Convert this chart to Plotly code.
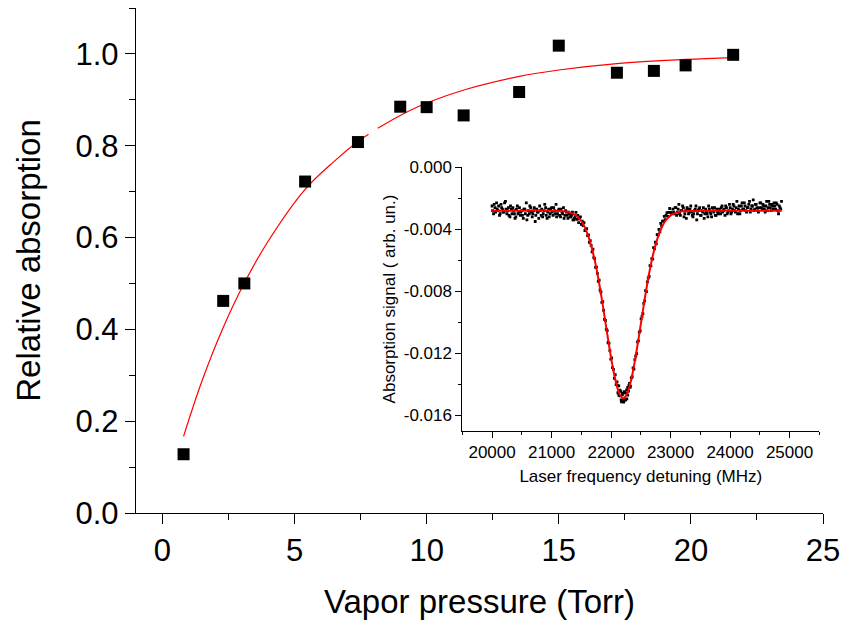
import plotly.graph_objects as go

# ---------------- main chart data ----------------
pressure_torr = [0.8, 2.3, 3.1, 5.4, 7.4, 9.0, 10.0, 11.4, 13.5, 15.0, 17.2, 18.6, 19.8, 21.6]
relative_absorption = [0.128, 0.462, 0.500, 0.722, 0.808, 0.885, 0.884, 0.866, 0.917, 1.018, 0.959, 0.963, 0.975, 0.998]

# fitted curve (with the small gap near 8 Torr)
fit_pressure = [0.8, 1.5, 2.3, 3.1, 4.0, 5.4, 6.5, 7.4, 7.8, None, 8.15, 9.0, 10.0, 11.5, 13.5, 15.0, 17.2, 19.8, 21.6]
fit_absorption = [0.167, 0.288, 0.404, 0.501, 0.592, 0.705, 0.766, 0.809, 0.825, None, 0.838, 0.866, 0.893, 0.923, 0.951, 0.965, 0.979, 0.988, 0.992]

main_x_ticks = [0, 5, 10, 15, 20, 25]
main_y_ticks = [0.0, 0.2, 0.4, 0.6, 0.8, 1.0]
main_y_ticktext = ["0.0", "0.2", "0.4", "0.6", "0.8", "1.0"]

# ---------------- inset data ----------------
left_x = [20000, 20025, 20050, 20075, 20100, 20125, 20150, 20175, 20200, 20225, 20250, 20275, 20300, 20325,
          20350, 20375, 20400, 20425, 20450, 20475, 20500, 20525, 20550, 20575, 20600, 20625, 20650, 20675,
          20700, 20725, 20750, 20775, 20800, 20825, 20850, 20875, 20900, 20925, 20950, 20975, 21000, 21025,
          21050, 21075, 21100, 21125, 21150, 21175, 21200, 21225, 21250, 21275, 21300, 21325, 21350, 21375]
left_y = [-0.0025, -0.0030, -0.0026, -0.0023, -0.0028, -0.0031, -0.0024, -0.0027, -0.0029, -0.0022, -0.0030,
          -0.0026, -0.0032, -0.0027, -0.0026, -0.0030, -0.0032, -0.0025, -0.0029, -0.0031, -0.0028, -0.0033,
          -0.0027, -0.0023, -0.0031, -0.0030, -0.0026, -0.0032, -0.0028, -0.0035, -0.0027, -0.0029, -0.0025,
          -0.0031, -0.0032, -0.0028, -0.0026, -0.0033, -0.0027, -0.0030, -0.0026, -0.0031, -0.0028, -0.0024,
          -0.0030, -0.0027, -0.0032, -0.0029, -0.0026, -0.0031, -0.0029, -0.0033, -0.0030, -0.0032, -0.0029,
          -0.0034]

left2_x = [20010, 20035, 20060, 20085, 20110, 20135, 20160, 20185, 20210, 20235, 20260, 20285, 20310, 20335,
           20360, 20385, 20410, 20435, 20460, 20485, 20510, 20535, 20560, 20585, 20610, 20635, 20660, 20685,
           20710, 20735, 20760, 20785, 20810, 20835, 20860, 20885, 20910, 20935, 20960, 20985, 21010, 21035,
           21060, 21085, 21110, 21135, 21160, 21185, 21210, 21235, 21260, 21285, 21310, 21335, 21360, 21385]
left2_y = [-0.0028, -0.0024, -0.0029, -0.0027, -0.0025, -0.0030, -0.0026, -0.0029, -0.0023, -0.0027, -0.0028,
           -0.0031, -0.0025, -0.0030, -0.0028, -0.0033, -0.0027, -0.0030, -0.0026, -0.0029, -0.0031, -0.0027,
           -0.0030, -0.0034, -0.0028, -0.0025, -0.0029, -0.0030, -0.0026, -0.0031, -0.0029, -0.0033, -0.0028,
           -0.0027, -0.0030, -0.0024, -0.0031, -0.0029, -0.0032, -0.0027, -0.0029, -0.0026, -0.0030, -0.0032,
           -0.0028, -0.0031, -0.0027, -0.0030, -0.0033, -0.0028, -0.0031, -0.0029, -0.0032, -0.0031, -0.0034,
           -0.0033]

dip_x = [21395, 21410, 21425, 21440, 21455, 21470, 21485, 21500, 21515, 21530, 21545, 21560, 21575, 21590,
         21605, 21620, 21635, 21650, 21665, 21680, 21695, 21710, 21725, 21740, 21755, 21770, 21785, 21800,
         21815, 21830, 21845, 21860, 21875, 21890, 21905, 21920, 21935, 21950, 21965, 21980, 21995, 22010,
         22025, 22040, 22055, 22070, 22085, 22100, 22115, 22130, 22145, 22160, 22175, 22190, 22205, 22220,
         22235, 22250, 22265, 22280, 22295, 22310, 22325, 22340, 22355, 22370, 22385, 22400, 22415, 22430,
         22445, 22460, 22475, 22490, 22505, 22520, 22535, 22550, 22565, 22580, 22595, 22610, 22625, 22640,
         22655, 22670, 22685, 22700, 22715, 22730, 22745, 22760, 22775, 22790, 22805, 22820, 22835, 22850,
         22865, 22880, 22895, 22910, 22925, 22940, 22955, 22970, 22985, 23000, 23015]
dip_y = [-0.00317, -0.00291, -0.00336, -0.00311, -0.00357, -0.00333, -0.00320, -0.00368, -0.00347, -0.00377,
         -0.00357, -0.00409, -0.00402, -0.00396, -0.00441, -0.00437, -0.00485, -0.00474, -0.00504, -0.00546,
         -0.00529, -0.00583, -0.00589, -0.00646, -0.00645, -0.00685, -0.00736, -0.00729, -0.00792, -0.00806,
         -0.00872, -0.00868, -0.00924, -0.00982, -0.00989, -0.01046, -0.01054, -0.01131, -0.01137, -0.01183,
         -0.01238, -0.01231, -0.01293, -0.01304, -0.01362, -0.01339, -0.01403, -0.01385, -0.01455, -0.01411,
         -0.01475, -0.01446, -0.01514, -0.01468, -0.01500, -0.01448, -0.01504, -0.01456, -0.01495, -0.01421,
         -0.01445, -0.01395, -0.01413, -0.01359, -0.01352, -0.01294, -0.01303, -0.01241, -0.01218, -0.01203,
         -0.01127, -0.01121, -0.01064, -0.01056, -0.00979, -0.00962, -0.00944, -0.00878, -0.00862, -0.00796,
         -0.00802, -0.00739, -0.00716, -0.00705, -0.00635, -0.00636, -0.00589, -0.00593, -0.00519, -0.00526,
         -0.00484, -0.00494, -0.00435, -0.00437, -0.00401, -0.00416, -0.00362, -0.00379, -0.00347, -0.00347,
         -0.00317, -0.00338, -0.00310, -0.00293, -0.00317, -0.00291, -0.00266, -0.00291, -0.00297]

bottom_x = [22110, 22130, 22150, 22170, 22190, 22212, 22228, 22245, 22262, 22280, 22300, 22320]
bottom_y = [-0.01409, -0.01471, -0.01439, -0.01501, -0.01458, -0.01515, -0.01456, -0.01499, -0.01437,
            -0.01471, -0.01409, -0.01421]

right_x = [23040, 23065, 23090, 23115, 23140, 23165, 23190, 23215, 23240, 23265, 23290, 23315, 23340, 23365,
           23390, 23415, 23440, 23465, 23490, 23515, 23540, 23565, 23590, 23615, 23640, 23665, 23690, 23715,
           23740, 23765, 23790, 23815, 23840, 23865, 23890, 23915, 23940, 23965, 23990, 24015, 24040, 24065,
           24090, 24115, 24140, 24165, 24190, 24215, 24240, 24265, 24290, 24315, 24340, 24365, 24390, 24415,
           24440, 24465, 24490, 24515, 24540, 24565, 24590, 24615, 24640, 24665, 24690, 24715, 24740, 24765,
           24790, 24815, 24840, 24865]
right_y = [-0.0027, -0.0030, -0.0026, -0.0029, -0.0024, -0.0031, -0.0028, -0.0026, -0.0030, -0.0033, -0.0027,
           -0.0029, -0.0025, -0.0031, -0.0030, -0.0027, -0.0034, -0.0028, -0.0026, -0.0031, -0.0029, -0.0033,
           -0.0027, -0.0030, -0.0025, -0.0029, -0.0032, -0.0028, -0.0026, -0.0031, -0.0029, -0.0027, -0.0030,
           -0.0025, -0.0028, -0.0031, -0.0026, -0.0029, -0.0024, -0.0030, -0.0027, -0.0025, -0.0029, -0.0022,
           -0.0027, -0.0030, -0.0025, -0.0027, -0.0023, -0.0028, -0.0026, -0.0024, -0.0029, -0.0025, -0.0021,
           -0.0027, -0.0024, -0.0028, -0.0026, -0.0023, -0.0027, -0.0025, -0.0029, -0.0022, -0.0026, -0.0024,
           -0.0028, -0.0025, -0.0023, -0.0027, -0.0024, -0.0030, -0.0026, -0.0022]

right2_x = [23052, 23077, 23102, 23127, 23152, 23177, 23202, 23227, 23252, 23277, 23302, 23327, 23352, 23377,
            23402, 23427, 23452, 23477, 23502, 23527, 23552, 23577, 23602, 23627, 23652, 23677, 23702, 23727,
            23752, 23777, 23802, 23827, 23852, 23877, 23902, 23927, 23952, 23977, 24002, 24027, 24052, 24077,
            24102, 24127, 24152, 24177, 24202, 24227, 24252, 24277, 24302, 24327, 24352, 24377, 24402, 24427,
            24452, 24477, 24502, 24527, 24552, 24577, 24602, 24627, 24652, 24677, 24702, 24727, 24752, 24777,
            24802, 24827, 24852]
right2_y = [-0.0029, -0.0026, -0.0031, -0.0027, -0.0030, -0.0028, -0.0025, -0.0032, -0.0028, -0.0026, -0.0030,
            -0.0027, -0.0029, -0.0032, -0.0028, -0.0025, -0.0030, -0.0027, -0.0031, -0.0028, -0.0026, -0.0030,
            -0.0029, -0.0032, -0.0027, -0.0030, -0.0026, -0.0029, -0.0031, -0.0027, -0.0030, -0.0028, -0.0026,
            -0.0029, -0.0027, -0.0025, -0.0030, -0.0028, -0.0026, -0.0029, -0.0024, -0.0028, -0.0026, -0.0030,
            -0.0025, -0.0028, -0.0023, -0.0027, -0.0025, -0.0029, -0.0026, -0.0022, -0.0027, -0.0025, -0.0028,
            -0.0024, -0.0026, -0.0029, -0.0023, -0.0026, -0.0024, -0.0027, -0.0025, -0.0028, -0.0022, -0.0026,
            -0.0024, -0.0027, -0.0025, -0.0023, -0.0028, -0.0025, -0.0027]

fit_detuning = [20000, 20500, 21000, 21205, 21305, 21395, 21485, 21545, 21605, 21665, 21725, 21785, 21845,
                21905, 21965, 22025, 22085, 22145, 22205, 22265, 22325, 22385, 22445, 22505, 22565, 22625,
                22685, 22745, 22805, 22865, 22925, 23015, 23105, 23205, 23700, 24300, 24870]
fit_signal = [-0.00280, -0.00280, -0.00280, -0.00284, -0.00291, -0.00307, -0.00340, -0.00377, -0.00431,
              -0.00504, -0.00599, -0.00716, -0.00852, -0.00999, -0.01147, -0.01283, -0.01393, -0.01465,
              -0.01490, -0.01465, -0.01393, -0.01283, -0.01147, -0.00999, -0.00852, -0.00716, -0.00599,
              -0.00504, -0.00431, -0.00377, -0.00340, -0.00307, -0.00291, -0.00284, -0.00280, -0.00280,
              -0.00280]

inset_x_ticks = [20000, 21000, 22000, 23000, 24000, 25000]
inset_x_ticktext = ["20000", "21000", "22000", "23000", "24000", "25000"]
inset_y_ticks = [0.0, -0.004, -0.008, -0.012, -0.016]
inset_y_ticktext = ["0.000", "-0.004", "-0.008", "-0.012", "-0.016"]

FONT = "Liberation Sans, Arial, sans-serif"

fig = go.Figure()
fig.add_trace(go.Scatter(x=fit_pressure, y=fit_absorption, mode="lines", connectgaps=False,
                         line=dict(color="#ff0000", width=1.2, shape="spline"), xaxis="x", yaxis="y"))
fig.add_trace(go.Scatter(x=pressure_torr, y=relative_absorption, mode="markers",
                         marker=dict(symbol="square", size=12, color="black"), xaxis="x", yaxis="y"))

det_x = left_x + left2_x + dip_x + bottom_x + right_x + right2_x
sig_y = left_y + left2_y + dip_y + bottom_y + right_y + right2_y
fig.add_trace(go.Scatter(x=det_x, y=sig_y, mode="markers",
                         marker=dict(symbol="square", size=2.8, color="black"), xaxis="x2", yaxis="y2"))
fig.add_trace(go.Scatter(x=fit_detuning, y=fit_signal, mode="lines",
                         line=dict(color="#ff0000", width=2, shape="spline"), xaxis="x2", yaxis="y2"))

axis_common = dict(showline=True, linecolor="black", showgrid=False, zeroline=False, automargin=False,
                   ticks="outside", tickcolor="black", mirror=False)

fig.update_layout(
    width=846, height=624,
    margin=dict(l=136, r=23, t=8, b=111),
    paper_bgcolor="white", plot_bgcolor="white",
    showlegend=False,
    font=dict(family=FONT, color="black"),
    xaxis=dict(**axis_common, range=[-1, 25], tickvals=main_x_ticks, linewidth=1.4, ticklen=10, tickwidth=1.4,
               tickfont=dict(size=31),
               minor=dict(dtick=2.5, tick0=0, ticklen=6, ticks="outside", tickcolor="black", tickwidth=1.2),
               title=dict(text="Vapor pressure (Torr)", font=dict(size=33), standoff=22),
               domain=[0, 1], anchor="y"),
    yaxis=dict(**axis_common, range=[0, 1.1], tickvals=main_y_ticks, ticktext=main_y_ticktext, linewidth=1.4,
               ticklen=10, tickwidth=1.4, tickfont=dict(size=31),
               minor=dict(dtick=0.1, tick0=0, ticklen=6, ticks="outside", tickcolor="black", tickwidth=1.2),
               title=dict(text="Relative absorption", font=dict(size=33), standoff=24),
               domain=[0, 1], anchor="x"),
    xaxis2=dict(**axis_common, range=[19500, 25500], tickvals=inset_x_ticks, ticktext=inset_x_ticktext,
                linewidth=1, ticklen=6, tickfont=dict(size=17),
                minor=dict(dtick=500, tick0=0, ticklen=3, ticks="outside", tickcolor="black"),
                title=dict(text="Laser frequency detuning (MHz)", font=dict(size=17), standoff=9),
                domain=[0.475, 0.9946], anchor="y2"),
    yaxis2=dict(**axis_common, range=[-0.017, 0], tickvals=inset_y_ticks, ticktext=inset_y_ticktext,
                linewidth=1, ticklen=6, tickfont=dict(size=17),
                minor=dict(dtick=0.002, tick0=0, ticklen=3, ticks="outside", tickcolor="black"),
                title=dict(text="Absorption signal ( arb. un.)", font=dict(size=17), standoff=3),
                domain=[0.163, 0.6846], anchor="x2"),
)

fig.write_html("out.html", config={"displayModeBar": False},
               post_script="document.body.style.margin='0px';")
